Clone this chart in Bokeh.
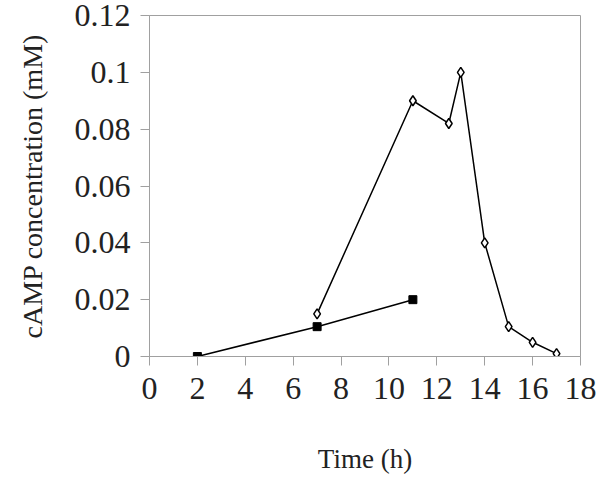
from bokeh.plotting import figure
from bokeh.embed import file_html
from bokeh.resources import INLINE
from bokeh.models import FixedTicker, Range1d, CustomJSTickFormatter

x_open = [7, 11, 12.5, 13, 14, 15, 16, 17]
y_open = [0.015, 0.09, 0.082, 0.1, 0.04, 0.0105, 0.005, 0.001]
x_sq = [2, 7, 11]
y_sq = [0.0, 0.0105, 0.02]
x_ticks = [0, 2, 4, 6, 8, 10, 12, 14, 16, 18]
y_ticks = [0, 0.02, 0.04, 0.06, 0.08, 0.1, 0.12]

p = figure(width=597, height=476, output_backend="svg", toolbar_location=None,
           x_range=Range1d(0, 18), y_range=Range1d(0, 0.12),
           min_border_left=149, min_border_right=17, min_border_top=15, min_border_bottom=117)
p.outline_line_color = "#a0a0a0"
p.xgrid.visible = False
p.ygrid.visible = False
font = "Liberation Serif"
for ax in (p.xaxis[0], p.yaxis[0]):
    ax.axis_line_color = "#a0a0a0"
    ax.major_tick_line_color = "#a0a0a0"
    ax.minor_tick_line_color = None
    ax.major_label_text_font = font
    ax.major_label_text_font_size = "32px"
    ax.major_label_text_color = "#222222"
    ax.axis_label_text_font = font
    ax.axis_label_text_font_style = "normal"
    ax.axis_label_text_color = "#222222"
    ax.major_tick_out = 9
    ax.major_tick_in = 0
p.xaxis.axis_label_text_font_size = "27px"
p.yaxis.axis_label_text_font_size = "28px"
p.xaxis.ticker = FixedTicker(ticks=x_ticks)
p.yaxis.ticker = FixedTicker(ticks=y_ticks)
p.yaxis.formatter = CustomJSTickFormatter(code="return String(parseFloat(tick.toFixed(2)));")
p.xaxis.major_label_standoff = 12
p.yaxis.major_label_standoff = 10
p.xaxis.axis_label = "Time (h)"
p.yaxis.axis_label = "cAMP concentration (mM)"
p.xaxis.axis_label_standoff = 42
p.yaxis.axis_label_standoff = 24

p.line(x_sq, y_sq, line_color="black", line_width=1.5)
p.scatter(x_sq, y_sq, marker="square", size=8, fill_color="black", line_color="black")
p.line(x_open, y_open, line_color="black", line_width=1.5)
p.scatter(x_open, y_open, marker="diamond", size=10, fill_color="white", line_color="black", line_width=1.5)

open("out.html", "w").write(file_html(p, INLINE))
